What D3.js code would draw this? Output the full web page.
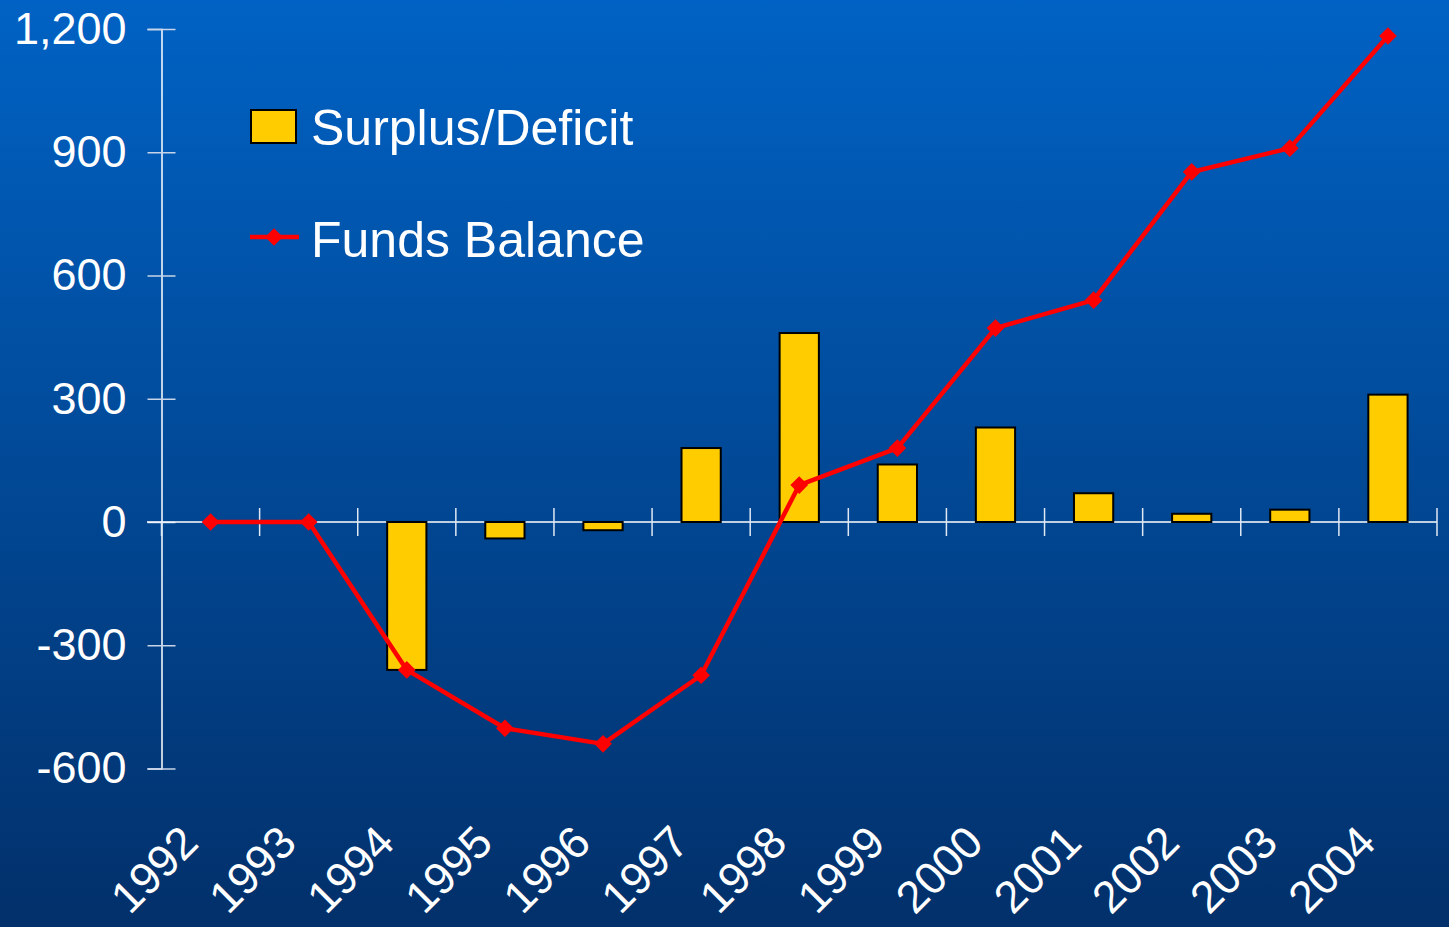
<!DOCTYPE html>
<html>
<head>
<meta charset="utf-8">
<script src="https://cdn.jsdelivr.net/npm/d3@7"></script>
<style>
  html, body { margin: 0; padding: 0; }
  #main { width: 1449px; height: 927px; }
  text { font-family: "Liberation Sans", Arial, sans-serif; fill: #fff; }
</style>
</head>
<body>
<div id="main"></div>
<script>
const width = 1449;
const height = 927;

// data
const years = ['1992', '1993', '1994', '1995', '1996', '1997', '1998', '1999', '2000', '2001', '2002', '2003', '2004'];
const surplusDeficit = [0, 0, -360, -40, -20, 180, 460, 140, 230, 70, 20, 30, 310];
const fundsBalance = [0, 0, -360, -502, -540, -373, 90, 180, 472, 540, 852, 910, 1183];
const yTicks = [-600, -300, 0, 300, 600, 900, 1200];

const svg = d3.select('#main')
  .append('svg')
  .attr('width', width)
  .attr('height', height);

const grad = svg.append('defs')
  .append('linearGradient')
  .attr('id', 'bg')
  .attr('x1', 0).attr('y1', 0)
  .attr('x2', 0).attr('y2', 1);
grad.append('stop').attr('offset', '0%').attr('stop-color', '#0062c4');
grad.append('stop').attr('offset', '100%').attr('stop-color', '#02306a');

svg.append('rect')
  .attr('width', width)
  .attr('height', height)
  .attr('fill', 'url(#bg)');

const x = d3.scaleBand()
  .domain(years)
  .range([161.5, 1437]);

const y = d3.scaleLinear()
  .domain([-600, 1200])
  .range([768.5, 29]);

// y axis, hyphen minus like the original
const fmt = d3.format(',');
const yAxis = svg.append('g')
  .attr('transform', 'translate(161.5,0)')
  .call(d3.axisLeft(y).tickValues(yTicks).tickSize(14).tickFormat((d) => fmt(d).replace('\u2212', '-')));
yAxis.select('.domain').attr('stroke', '#fff').attr('stroke-width', 1.5);
yAxis.selectAll('.tick line').clone().attr('x2', 14);
yAxis.selectAll('.tick line').attr('stroke', '#c8d4e8').attr('stroke-width', 1.5);
yAxis.selectAll('.tick text')
  .attr('x', -35)
  .style('font-size', '45px')
  .style('font-family', '"Liberation Sans", Arial, sans-serif')
  .attr('fill', '#fff');

// x axis on zero line
const xAxis = svg.append('g')
  .attr('transform', `translate(0,${y(0)})`);
xAxis.append('line')
  .attr('x1', 147).attr('x2', 1437)
  .attr('stroke', '#fff').attr('stroke-width', 1.5);
xAxis.selectAll('.xtick')
  .data(years.concat(['end']))
  .enter()
  .append('line')
  .attr('class', 'xtick')
  .attr('x1', (d, i) => x.range()[0] + i * x.step())
  .attr('x2', (d, i) => x.range()[0] + i * x.step())
  .attr('y1', (d, i) => (i === 0 ? 0 : -14))
  .attr('y2', 14)
  .attr('stroke', '#e0e8f4').attr('stroke-width', 1.5);

// category labels
svg.selectAll('.xlabel')
  .data(years)
  .enter()
  .append('text')
  .attr('class', 'xlabel')
  .attr('text-anchor', 'end')
  .attr('transform', (d) => `translate(${x(d) + x.bandwidth() / 2 - 10},${845}) rotate(-45)`)
  .style('font-size', '45px')
  .text((d) => d);

// bars
const barW = x.bandwidth() * 0.4;
svg.selectAll('.bar')
  .data(years)
  .enter()
  .filter((d, i) => surplusDeficit[i] !== 0)
  .append('rect')
  .attr('class', 'bar')
  .attr('x', (d) => x(d) + x.bandwidth() / 2 - barW / 2)
  .attr('width', barW)
  .attr('y', (d) => y(Math.max(0, surplusDeficit[years.indexOf(d)])))
  .attr('height', (d) => Math.abs(y(surplusDeficit[years.indexOf(d)]) - y(0)))
  .attr('fill', '#ffcc00')
  .attr('stroke', '#000')
  .attr('stroke-width', 2);

// funds balance line
const line = d3.line()
  .x((d, i) => x(years[i]) + x.bandwidth() / 2)
  .y((d) => y(d));

svg.append('path')
  .datum(fundsBalance)
  .attr('d', line)
  .attr('fill', 'none')
  .attr('stroke', '#ff0000')
  .attr('stroke-width', 4.5)
  .attr('stroke-linejoin', 'round');

const diamond = d3.symbol().type(d3.symbolDiamond2).size(200);
svg.selectAll('.marker')
  .data(fundsBalance)
  .enter()
  .append('path')
  .attr('class', 'marker')
  .attr('d', diamond)
  .attr('transform', (d, i) => `translate(${x(years[i]) + x.bandwidth() / 2},${y(d)})`)
  .attr('fill', '#ff0000');

// legend
const legend = svg.append('g');
legend.append('rect')
  .attr('x', 251).attr('y', 110)
  .attr('width', 45).attr('height', 33)
  .attr('fill', '#ffcc00')
  .attr('stroke', '#000')
  .attr('stroke-width', 2);
legend.append('text')
  .attr('x', 311).attr('y', 145)
  .style('font-size', '50px')
  .text('Surplus/Deficit');
legend.append('line')
  .attr('x1', 250).attr('x2', 299)
  .attr('y1', 237).attr('y2', 237)
  .attr('stroke', '#ff0000').attr('stroke-width', 4.5);
legend.append('path')
  .attr('d', diamond)
  .attr('transform', 'translate(274,237)')
  .attr('fill', '#ff0000');
legend.append('text')
  .attr('x', 311).attr('y', 257)
  .style('font-size', '50px')
  .text('Funds Balance');
</script>
</body>
</html>
